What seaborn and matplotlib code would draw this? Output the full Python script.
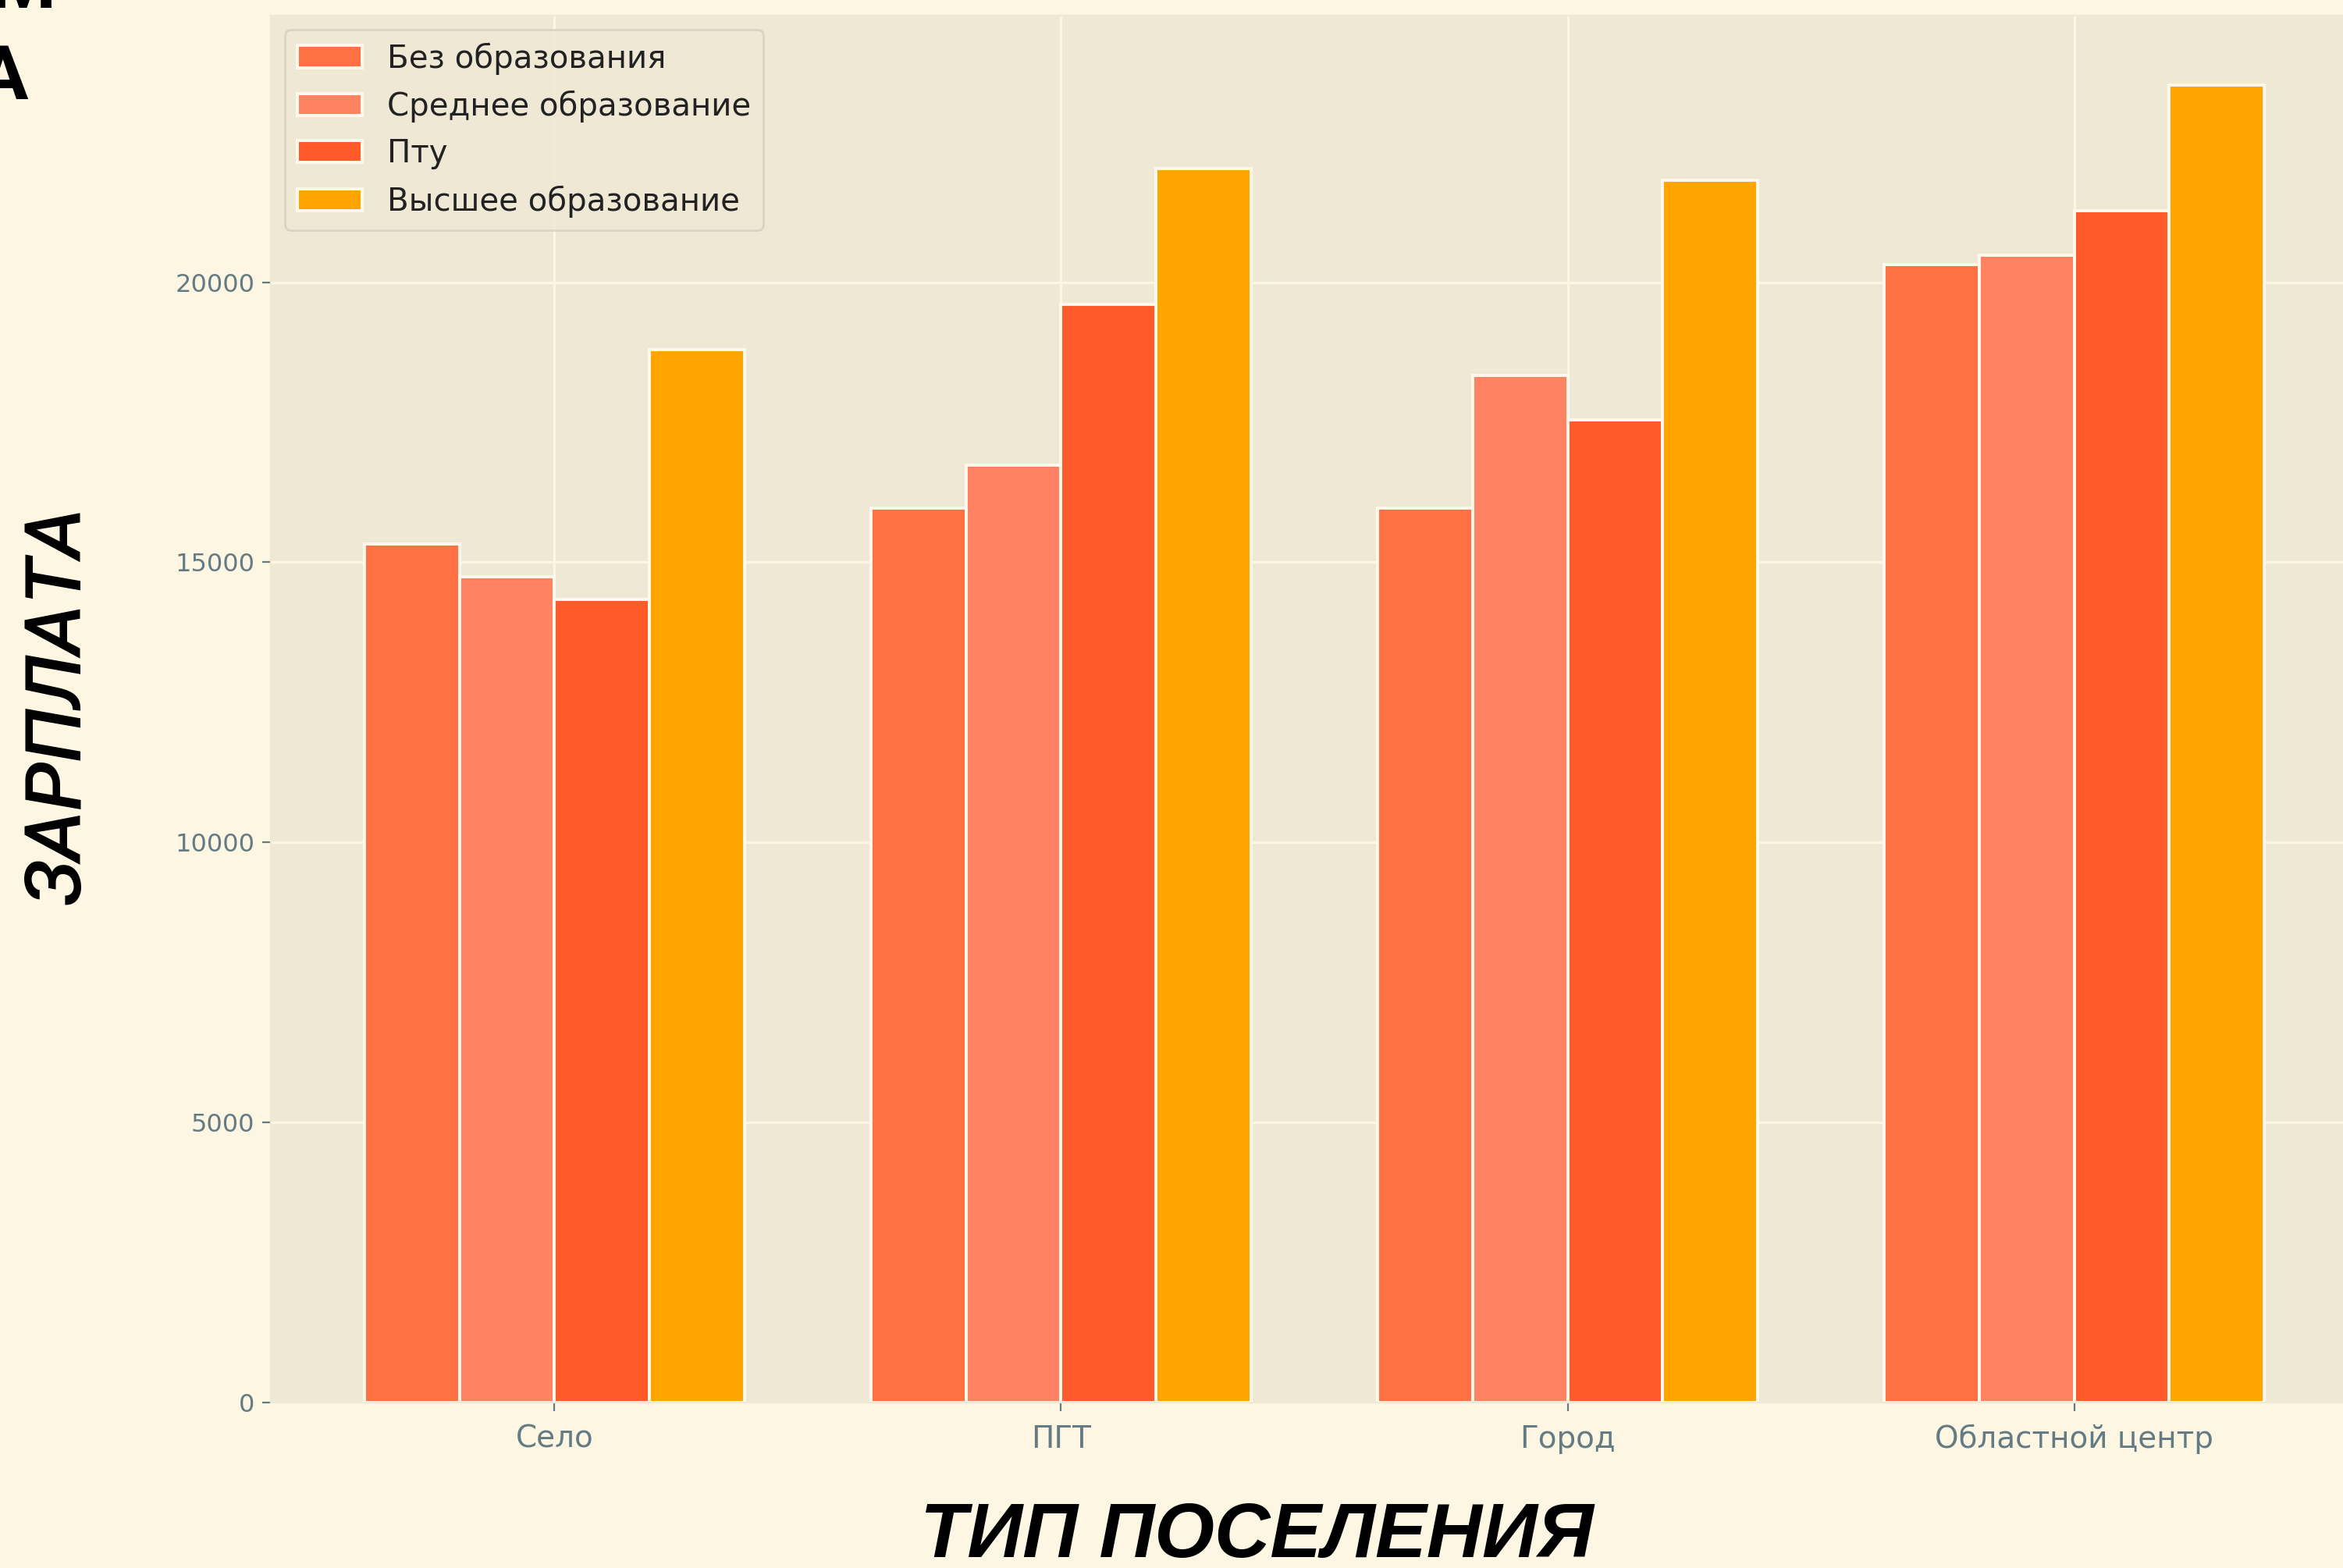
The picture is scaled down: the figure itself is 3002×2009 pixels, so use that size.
# Зарплата по типу поселения и образованию
import pandas as pd
import matplotlib
matplotlib.use("Agg")
import matplotlib.pyplot as plt
import seaborn as sns

# данные
settlements = ["Село", "ПГТ", "Город", "Областной центр"]
education = ["Без образования", "Среднее образование", "Пту", "Высшее образование"]
no_edu = [15330, 15970, 15970, 20320]
secondary = [14740, 16740, 18340, 20480]
ptu = [14340, 19600, 17540, 21280]
higher = [18800, 22030, 21820, 23520]
colors = ["#FF7043", "#FF8262", "#FF5A2A", "#FFA500"]

rows = []
for edu, vals in zip(education, [no_edu, secondary, ptu, higher]):
    for s, v in zip(settlements, vals):
        rows.append({"settlement": s, "education": edu, "salary": v})
df = pd.DataFrame(rows)

plt.style.use("Solarize_Light2")
W, H, DPI = 3002, 2009, 200
fig = plt.figure(figsize=(W / DPI, H / DPI), dpi=DPI)
ax = fig.add_axes([347 / W, 212 / H, (3021 - 347) / W, (1797 - 20) / H])

sns.barplot(data=df, x="settlement", y="salary", hue="education",
            order=settlements, hue_order=education, palette=colors, saturation=1,
            width=0.75, errorbar=None, edgecolor="#fff8ec", linewidth=1.4, ax=ax)

ax.set_xlim(-0.56, 3.56)
ax.set_ylim(0, 24760)
ax.set_yticks([0, 5000, 10000, 15000, 20000])
ax.grid(True, color="#fdf6e3", linewidth=1.2)
ax.set_axisbelow(True)
ax.set_xlabel("")
ax.set_ylabel("")
ax.tick_params(colors="#657b83", length=4)
ax.tick_params(axis="y", labelsize=11.5)
ax.tick_params(axis="x", labelsize=14, pad=6)
for lab in ax.get_xticklabels() + ax.get_yticklabels():
    lab.set_color("#657b83")

handles, labels = ax.get_legend_handles_labels()
leg = ax.legend(handles, labels, loc="upper left", fontsize=14.5, handlelength=2.05,
                frameon=True, facecolor="#eee8d5", edgecolor="#d5d0c0",
                borderaxespad=0.45)
for t in leg.get_texts():
    t.set_color("#222222")

# подписи осей
fig.text(75 / W, 1 - 904 / H, "ЗАРПЛАТА", rotation=90, ha="center", va="center",
         fontsize=36, family="Roboto", style="italic", weight="medium", color="black")
fig.text(1610 / W, 14 / H, "ТИП ПОСЕЛЕНИЯ", ha="center", va="baseline",
         fontsize=35.5, family="Liberation Sans", style="italic", weight="bold",
         color="black")

# обрезанный заголовок в углу
fig.text(72 / W, 1 - 10 / H, "М", ha="right", va="baseline",
         fontsize=35, family="Roboto", weight="bold", color="black")
fig.text(36 / W, 1 - 127 / H, "А", ha="right", va="baseline",
         fontsize=35, family="Roboto", weight="bold", color="black")

fig.savefig("out.png", dpi=DPI, facecolor=fig.get_facecolor())
